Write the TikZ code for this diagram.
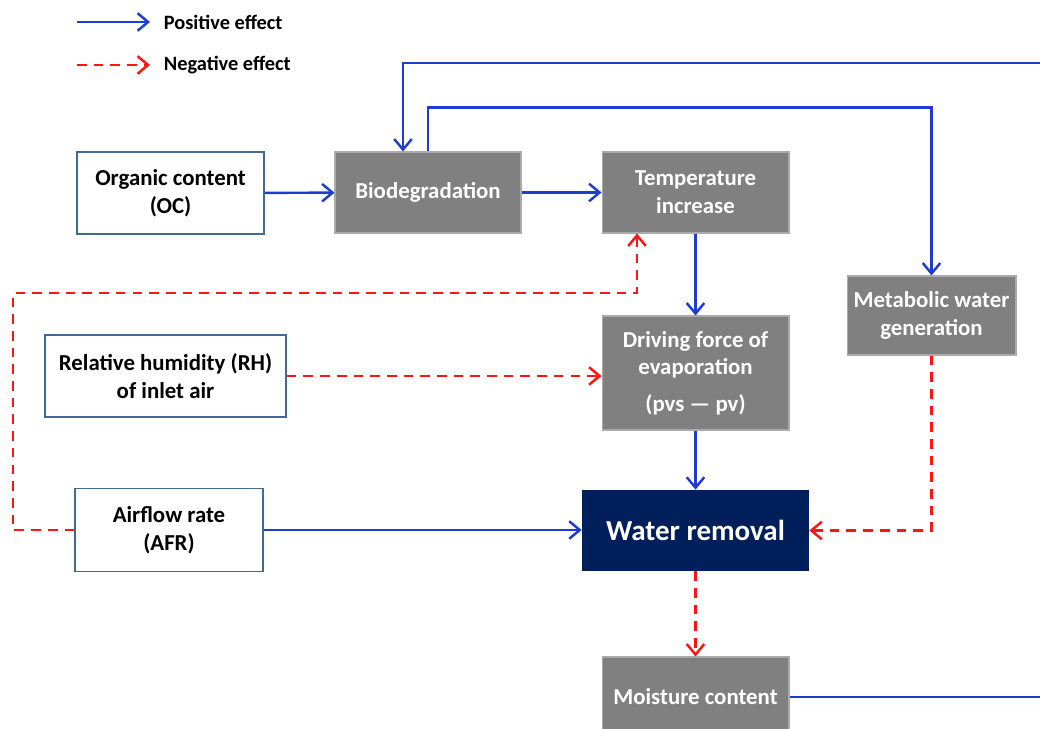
\documentclass[tikz,border=0pt]{standalone}
\usepackage{fontspec}
\setmainfont{Carlito}
\usetikzlibrary{arrows.meta}
\definecolor{posblue}{RGB}{30,60,205}
\definecolor{negred}{RGB}{255,20,20}
\definecolor{boxgrey}{RGB}{128,128,128}
\definecolor{edgegrey}{RGB}{170,170,170}
\definecolor{wrnavy}{RGB}{0,31,91}
\definecolor{boxline}{RGB}{65,105,145}
\begin{document}
\begin{tikzpicture}[x=0.02cm, y=-0.02cm,
    every node/.style={font=\bfseries\fontsize{13}{15.8}\selectfont, align=center, inner sep=2pt},
    factor/.style={draw=boxline, line width=0.9pt, fill=white, text=black},
    stage/.style={draw=edgegrey, line width=0.6pt, fill=boxgrey, text=white},
    target/.style={fill=wrnavy, text=white, font=\bfseries\fontsize{16.5}{19}\selectfont},
    poslink/.style={draw=posblue, line width=1.4pt, -{Straight Barb[length=6pt,width=10pt]}},
    neglink/.style={draw=negred, line width=1.4pt, dash pattern=on 5.5pt off 4pt, -{Straight Barb[length=6pt,width=10pt]}}]
    \useasboundingbox (0,0) rectangle (1040,729);

    % Legend
    \coordinate (lp1) at (77,22);
    \coordinate (lp2) at (150,22);
    \coordinate (ln1) at (77,65);
    \coordinate (ln2) at (150,65);
    \draw[poslink] (lp1) -- (lp2);
    \draw[neglink] (ln1) -- (ln2);
    \node[anchor=west, font=\bfseries\fontsize{11.6}{13}\selectfont] (lpos) at (160,22) {Positive effect};
    \node[anchor=west, font=\bfseries\fontsize{11.6}{13}\selectfont] (lneg) at (160,65) {Negative effect};

    % Nodes
    \node[factor, minimum width=3.74cm, minimum height=1.64cm] (oc) at (170.5,193) {Organic content\\(OC)};
    \node[stage, minimum width=3.72cm, minimum height=1.62cm] (bio) at (428,192.5) {Biodegradation};
    \node[stage, minimum width=3.74cm, minimum height=1.62cm] (temp) at (695.5,192.5) {Temperature\\increase};
    \node[stage, minimum width=3.38cm, minimum height=1.58cm] (meta) at (931.5,315.5) {Metabolic water\\generation};
    \node[stage, minimum width=3.74cm, minimum height=2.28cm] (drive) at (695.5,373) {Driving force of\\evaporation\\[5pt](pvs — pv)};
    \node[factor, minimum width=4.82cm, minimum height=1.64cm] (rh) at (165.5,376) {Relative humidity (RH)\\of inlet air};
    \node[factor, minimum width=3.76cm, minimum height=1.66cm] (afr) at (169,530) {Airflow rate\\(AFR)};
    \node[target, minimum width=4.54cm, minimum height=1.62cm] (wr) at (695.5,530.5) {Water removal};
    \node[stage, minimum width=3.74cm, minimum height=1.6cm] (mc) at (695.5,697) {Moisture content};

    % Free ends and turns
    \coordinate (rimHigh) at (1040,63);
    \coordinate (rimLow) at (1040,697);
    \coordinate (loopTurn) at (637,293);

    % Edges
    \draw[poslink] (oc) -- (bio);
    \draw[poslink] (bio) -- (temp);
    \draw[poslink] (temp) -- (drive);
    \draw[poslink] (drive) -- (wr);
    \draw[poslink] (afr.east) -- (wr.west |- afr.east);
    \draw[neglink] (rh) -- (drive.west |- rh);
    \draw[neglink] (meta.south) |- (wr.east);
    \draw[neglink] (wr) -- (mc);
    \draw[neglink] (afr.west) -- ++(-61,0) |- (loopTurn) -- (temp.south -| loopTurn);
    \draw[poslink] (bio.north) -- ++(0,-44) -| (meta.north);
    \draw[poslink] (rimHigh) -| ([xshift=-0.5cm]bio.north);
    \draw[draw=posblue, line width=1.4pt] (mc.east) -- (rimLow);
\end{tikzpicture}
\end{document}
